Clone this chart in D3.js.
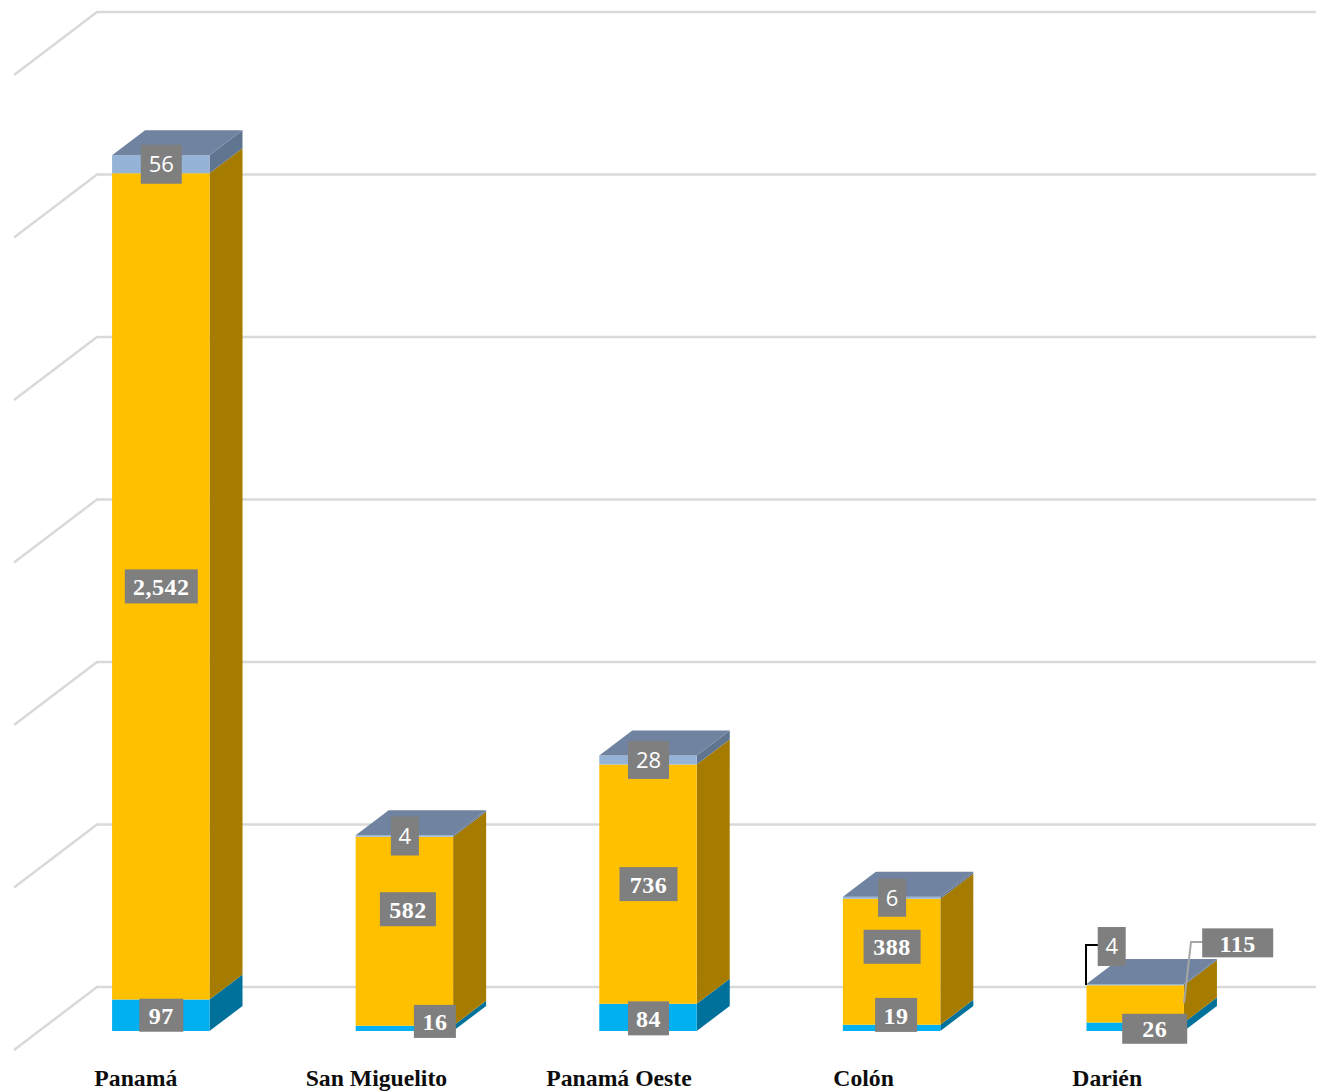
<!DOCTYPE html>
<html>
<head>
<meta charset="utf-8">
<script src="https://cdnjs.cloudflare.com/ajax/libs/d3/7.8.5/d3.min.js"></script>
<style>
html, body { margin: 0; padding: 0; background: #fff; }
svg { display: block; }
.cat { font-family: "Liberation Serif", serif; font-weight: bold; font-size: 23.7px; fill: #0d0d0d; }
.lbl { fill: #fff; }
.lbl.light { font-family: "Open Sans", sans-serif; font-size: 22px; }
.lbl.heavy { font-family: "Liberation Serif", serif; font-weight: bold; font-size: 24px; letter-spacing: 0.5px; }
</style>
</head>
<body>
<svg id="chart" width="1318" height="1092"></svg>
<script>
//Chart values
var categories = ["Panamá", "San Miguelito", "Panamá Oeste", "Colón", "Darién"];
var seriesBlue = [97, 16, 84, 19, 26];
var seriesYellow = [2542, 582, 736, 388, 115];
var seriesGrey = [56, 4, 28, 6, 4];
var gridTicks = [0, 500, 1000, 1500, 2000, 2500, 3000];

//Layout
var W = 1318, H = 1092;
var baseY = 1031, barDx = 33, barDy = 25;  //depth of one bar
var wallDx = 83, wallDy = 63, wallX = 97;  //depth of the left wall
var floorLift = 44;                        //back wall floor sits above bar front

var y = d3.scaleLinear().domain([0, 3000]).range([baseY, baseY - 975]);
var x = d3.scaleBand().domain(categories).range([39, 1257]).paddingInner(0.6).paddingOuter(0.3);

var keys = ["blue", "yellow", "grey"];
var colors = {
	blue:   { front: "#00b0f0", side: "#00719b" },
	yellow: { front: "#ffc000", side: "#a67c00" },
	grey:   { front: "#95b3d7", side: "#60758f" }
};
var capColor = "#7083a1";

var rows = categories.map(function (c, i) {
	return { cat: c, blue: seriesBlue[i], yellow: seriesYellow[i], grey: seriesGrey[i] };
});
var stacked = d3.stack().keys(keys)(rows);

var svg = d3.select("#chart");

//Gridlines: back wall plus the slanted bit on the left wall
gridTicks.forEach(function (t) {
	var gy = y(t) - floorLift;
	svg.append("polyline")
		.attr("points", [[wallX - wallDx, gy + wallDy], [wallX, gy], [W - 2, gy]].join(" "))
		.attr("fill", "none")
		.attr("stroke", "#d9d9d9")
		.attr("stroke-width", 2.5);
});

function quad(pts, fill) {
	svg.append("polygon")
		.attr("points", pts.join(" "))
		.attr("fill", fill);
}

//Bars
stacked.forEach(function (layer) {
	var c = colors[layer.key];
	layer.forEach(function (d) {
		var x0 = x(d.data.cat), x1 = x0 + x.bandwidth();
		var yb = y(d[0]), yt = y(d[1]);
		quad([[x1, yb], [x1 + barDx, yb - barDy], [x1 + barDx, yt - barDy], [x1, yt]], c.side);
		quad([[x0, yb], [x1, yb], [x1, yt], [x0, yt]], c.front);
	});
});
//Top faces
stacked[2].forEach(function (d) {
	var x0 = x(d.data.cat), x1 = x0 + x.bandwidth(), yt = y(d[1]);
	quad([[x0, yt], [x1, yt], [x1 + barDx, yt - barDy], [x0 + barDx, yt - barDy]], capColor);
});

//Category labels
var catShift = [3, 0, -1, 0, 0];
svg.selectAll(".cat").data(categories).enter().append("text")
	.attr("class", "cat")
	.attr("x", function (d, i) { return x(d) + x.bandwidth() / 2 - 28 + catShift[i]; })
	.attr("y", 1086)
	.attr("text-anchor", "middle")
	.text(function (d) { return d; });

//Leader lines for the Darién labels
svg.append("polyline")
	.attr("points", "1098,945 1086,945 1086,985")
	.attr("fill", "none").attr("stroke", "#000").attr("stroke-width", 2);
svg.append("polyline")
	.attr("points", "1203,942 1191,942 1184,1003")
	.attr("fill", "none").attr("stroke", "#a6a6a6").attr("stroke-width", 2);

//Data labels, moved by hand where the original moved them: [dx, dy, boxW, boxH]
var labelBoxes = {
	blue:   [[0, 0, 44, 33], [30, -7, 42, 33], [0, 1, 41, 34], [4, -13, 42, 34], [19, 2, 65, 30]],
	yellow: [[0, 0, 73, 34], [3, -22, 56, 34], [0, 0, 58, 34], [0, -15, 57, 34], [102, -61, 71, 29]],
	grey:   [[0, 0, 41, 39], [0, 0, 28, 39], [0, 0, 41, 38], [0, 0, 28, 38], [-24, -38, 28, 39]]
};
var fmt = d3.format(",");
stacked.forEach(function (layer) {
	layer.forEach(function (d, i) {
		var b = labelBoxes[layer.key][i];
		var cx = x(d.data.cat) + x.bandwidth() / 2 + b[0] + 0.5;
		var cy = (y(d[0]) + y(d[1])) / 2 + b[1];
		svg.append("rect")
			.attr("x", cx - b[2] / 2).attr("y", cy - b[3] / 2)
			.attr("width", b[2]).attr("height", b[3])
			.attr("fill", "#7f7f7f");
		svg.append("text")
			.attr("class", "lbl " + (layer.key === "grey" ? "light" : "heavy"))
			.attr("x", cx).attr("y", cy)
			.attr("dy", "0.36em")
			.attr("text-anchor", "middle")
			.text(fmt(d.data[layer.key]));
	});
});
</script>
</body>
</html>
